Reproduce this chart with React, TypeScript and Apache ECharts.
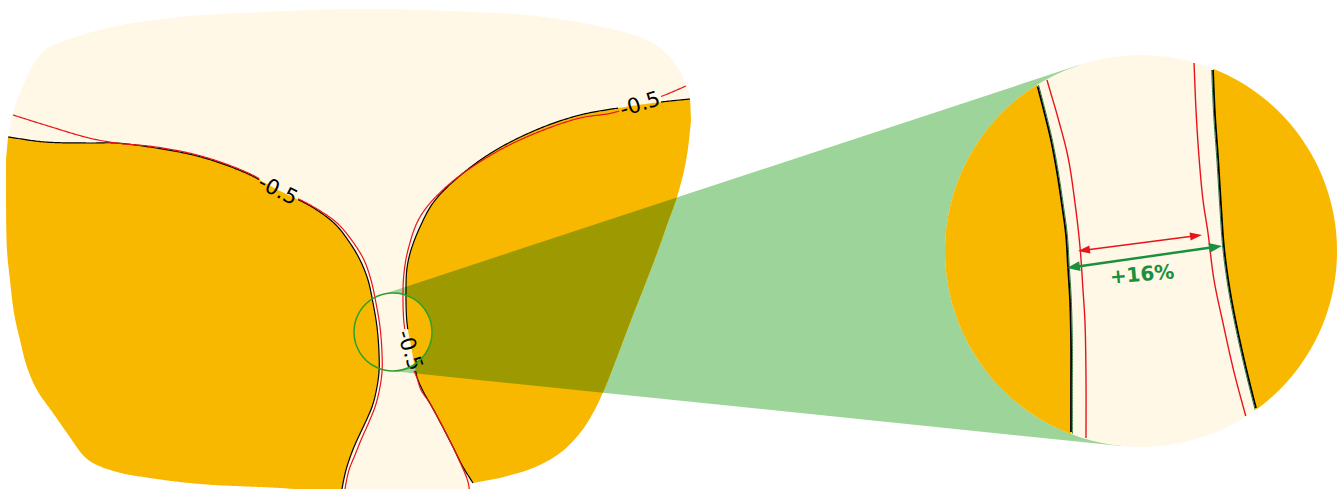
import React, { useEffect, useRef } from "react";
import * as echarts from "echarts";

type P = [number, number];

const W = 1339;
const H = 489;

// ---- main field (pixel-space data coordinates) ----
const blobOutline: P[] = [
  [9, 137], [13, 113], [20, 93], [27, 77], [35, 62], [45, 50], [67, 40], [112, 27], [179, 17],
  [268, 12], [357, 9], [446, 11], [536, 16], [603, 27], [647, 40], [670, 57], [683, 77],
  [690, 97], [691, 120], [689, 140], [687, 155], [683, 175], [676, 200], [668, 222], [657, 253],
  [644, 287], [631, 320], [617, 357], [604, 390], [593, 413], [580, 433], [560, 453], [533, 468],
  [500, 478], [473, 483], [466, 497], [340, 497], [320, 491], [280, 488], [200, 484], [150, 478],
  [117, 472], [93, 463], [83, 455], [67, 433], [53, 413], [37, 390], [27, 367], [20, 340],
  [14, 313], [10, 280], [7, 250], [6, 200], [6, 160],
];

const leftContour: P[] = [
  [8, 137], [45, 142], [89, 143], [116, 143], [156, 148], [201, 157], [246, 173], [278, 190],
  [312, 207], [335, 224], [350, 243], [360, 260], [368, 280], [373, 303], [377, 327], [379, 353],
  [379, 372], [376, 392], [372, 407], [366, 421], [358, 438], [352, 452], [346, 470], [342, 489],
  [341, 497],
];
const leftOuterEdge: P[] = [
  [320, 491], [280, 488], [200, 484], [150, 478], [117, 472], [93, 463], [83, 455], [67, 433],
  [53, 413], [37, 390], [27, 367], [20, 340], [14, 313], [10, 280], [7, 250], [6, 200], [6, 160],
];
const rightContour: P[] = [
  [690, 99], [661, 102], [625, 107], [580, 115], [536, 130], [491, 153], [455, 180], [433, 203],
  [420, 227], [411, 250], [407, 268], [406, 290], [407, 323], [411, 346], [415, 368], [418, 380],
  [424, 393], [431, 405], [438, 418], [453, 447], [463, 467], [473, 483],
];
const rightOuterEdge: P[] = [
  [500, 478], [533, 468], [560, 453], [580, 433], [593, 413], [604, 390], [617, 357], [631, 320],
  [644, 287], [657, 253], [668, 222], [676, 200], [683, 175], [687, 155], [689, 140], [691, 120],
];
const leftRedLine: P[] = [
  [13, 115], [45, 125], [89, 138], [116, 143], [156, 147], [201, 156], [246, 172], [278, 189],
  [312, 206], [337, 223], [353, 242], [364, 260], [371, 280], [376, 303], [380, 327], [382, 353],
  [382, 372], [379, 392], [375, 407], [369, 422], [361, 440], [355, 455], [349, 470], [345, 489],
  [344, 497],
];
const rightRedLine: P[] = [
  [686, 86], [665, 95], [640, 104], [612, 113], [580, 118], [536, 133], [491, 155], [446, 187],
  [420, 217], [408, 250], [404, 273], [403, 293], [404, 323], [408, 346], [413, 368], [417, 378],
  [421, 390], [429, 402], [446, 433], [459, 460], [468, 482], [470, 497],
];

const labelTexts = ["-0.5", "-0.5", "-0.5"];
const labelCenters: P[] = [[278, 190], [640, 104], [410, 350]];
const labelAngles = [27, -17, 72]; // degrees, clockwise

// ---- lenses ----
const smallLensCenter: P = [393, 332];
const smallLensRadius = 39;
const bigLensCenter: P = [1141, 251];
const bigLensRadius = 196;

// ---- magnified view ----
const zoomLeftBlack: P[] = [
  [1033, 70], [1038, 88], [1045, 115], [1051, 140], [1057, 172], [1062, 205], [1066, 235],
  [1068, 267], [1070, 300], [1071, 340], [1071, 390], [1071, 432], [1071, 455],
];
const zoomRightBlack: P[] = [
  [1212, 45], [1213, 70], [1215, 115], [1218, 157], [1221, 205], [1224, 247], [1229, 285],
  [1236, 323], [1246, 368], [1256, 408], [1262, 430],
];
const zoomLeftRed: P[] = [
  [1043, 65], [1047, 80], [1058, 118], [1068, 157], [1075, 203], [1080, 247], [1083, 290],
  [1085, 323], [1086, 380], [1086, 438], [1086, 455],
];
const zoomRightRed: P[] = [
  [1193, 45], [1194, 63], [1196, 110], [1199, 157], [1203, 200], [1208, 233], [1214, 280],
  [1223, 323], [1234, 372], [1246, 417], [1250, 432],
];
const redArrow: P[] = [[1078, 251], [1202, 235]];
const greenArrow: P[] = [[1067, 268], [1222, 246]];
const zoomLabel = "+16%";
const zoomLabelAt: P = [1142, 274];
const zoomLabelAngle = -5;

// ---- colours ----
const CREAM = "#FFF8E6";
const ORANGE = "#F9B800";
const LIGHT_GREEN = "#9DD49A";
const OLIVE = "#9C9A00";
const RED = "#E8141C";
const LENS_GREEN = "#2CA02C";
const ARROW_GREEN = "#1A8F3E";
const EDGE_GREEN = "#1E6E32";

// ---------- geometry helpers ----------
// centripetal Catmull-Rom curve through the read points (drawing only)
function densify(pts: P[], closed = false, step = 1.5): P[] {
  const n = pts.length;
  const out: P[] = [];
  const get = (i: number): P => {
    if (closed) return pts[((i % n) + n) % n];
    if (i < 0) return [2 * pts[0][0] - pts[1][0], 2 * pts[0][1] - pts[1][1]];
    if (i > n - 1) return [2 * pts[n - 1][0] - pts[n - 2][0], 2 * pts[n - 1][1] - pts[n - 2][1]];
    return pts[i];
  };
  const segs = closed ? n : n - 1;
  const dt = (a: P, b: P) => Math.max(1e-4, Math.sqrt(Math.hypot(b[0] - a[0], b[1] - a[1])));
  for (let i = 0; i < segs; i++) {
    const p0 = get(i - 1), p1 = get(i), p2 = get(i + 1), p3 = get(i + 2);
    const t0 = 0, t1 = t0 + dt(p0, p1), t2 = t1 + dt(p1, p2), t3 = t2 + dt(p2, p3);
    const len = Math.hypot(p2[0] - p1[0], p2[1] - p1[1]);
    const k = Math.max(1, Math.ceil(len / step));
    const lerp = (a: P, b: P, ta: number, tb: number, t: number): P => {
      const u = (t - ta) / (tb - ta);
      return [a[0] + (b[0] - a[0]) * u, a[1] + (b[1] - a[1]) * u];
    };
    for (let j = 0; j < k; j++) {
      const t = t1 + ((t2 - t1) * j) / k;
      const A1 = lerp(p0, p1, t0, t1, t);
      const A2 = lerp(p1, p2, t1, t2, t);
      const A3 = lerp(p2, p3, t2, t3, t);
      const B1 = lerp(A1, A2, t0, t2, t);
      const B2 = lerp(A2, A3, t1, t3, t);
      out.push(lerp(B1, B2, t1, t2, t));
    }
  }
  if (!closed) out.push(pts[n - 1]);
  return out;
}

function circlePoly(c: P, r: number, n = 120): P[] {
  const out: P[] = [];
  for (let i = 0; i < n; i++) {
    const a = (i / n) * Math.PI * 2;
    out.push([c[0] + r * Math.cos(a), c[1] + r * Math.sin(a)]);
  }
  return out;
}

function clipPoly(subject: P[], clip: P[]): P[] {
  let area = 0;
  for (let i = 0; i < clip.length; i++) {
    const a = clip[i], b = clip[(i + 1) % clip.length];
    area += a[0] * b[1] - b[0] * a[1];
  }
  const s = Math.sign(area);
  let output = subject;
  for (let i = 0; i < clip.length; i++) {
    const a = clip[i], b = clip[(i + 1) % clip.length];
    const side = (p: P) => s * ((b[0] - a[0]) * (p[1] - a[1]) - (b[1] - a[1]) * (p[0] - a[0]));
    const input = output;
    output = [];
    if (!input.length) break;
    for (let j = 0; j < input.length; j++) {
      const cur = input[j], prev = input[(j + input.length - 1) % input.length];
      const sc = side(cur), sp = side(prev);
      const inter = (): P => {
        const t = sp / (sp - sc);
        return [prev[0] + (cur[0] - prev[0]) * t, prev[1] + (cur[1] - prev[1]) * t];
      };
      if (sc >= 0) {
        if (sp < 0) output.push(inter());
        output.push(cur);
      } else if (sp >= 0) output.push(inter());
    }
  }
  return output;
}

function splitBy(line: P[], keep: (p: P) => boolean): P[][] {
  const parts: P[][] = [];
  let cur: P[] = [];
  for (const p of line) {
    if (keep(p)) cur.push(p);
    else {
      if (cur.length > 1) parts.push(cur);
      cur = [];
    }
  }
  if (cur.length > 1) parts.push(cur);
  return parts;
}

function outerTangents(c1: P, r1: number, c2: P, r2: number): [P, P][] {
  const dx = c2[0] - c1[0], dy = c2[1] - c1[1];
  const D = Math.hypot(dx, dy);
  const ux = dx / D, uy = dy / D, px = -uy, py = ux;
  const k = (r1 - r2) / D, h = Math.sqrt(1 - k * k);
  return [1, -1].map((s) => {
    const nx = k * ux + s * h * px, ny = k * uy + s * h * py;
    return [
      [c1[0] + r1 * nx, c1[1] + r1 * ny],
      [c2[0] + r2 * nx, c2[1] + r2 * ny],
    ] as [P, P];
  });
}

function shift(line: P[], dx: number): P[] {
  return line.map((p) => [p[0] + dx, p[1]] as P);
}

function arrowParts(a: P, b: P, headLen: number, halfW: number) {
  const dx = b[0] - a[0], dy = b[1] - a[1];
  const L = Math.hypot(dx, dy);
  const ux = dx / L, uy = dy / L, px = -uy, py = ux;
  const head = (tip: P, dir: number): P[] => {
    const bx = tip[0] - dir * ux * headLen, by = tip[1] - dir * uy * headLen;
    return [tip, [bx + px * halfW, by + py * halfW], [bx - px * halfW, by - py * halfW]];
  };
  const shaft: P[] = [
    [a[0] + ux * (headLen - 2), a[1] + uy * (headLen - 2)],
    [b[0] - ux * (headLen - 2), b[1] - uy * (headLen - 2)],
  ];
  return { shaft, heads: [head(a, -1), head(b, 1)] };
}

export default function App() {
  const ref = useRef<HTMLDivElement>(null);

  useEffect(() => {
    if (!ref.current) return;
    const chart = echarts.init(ref.current, undefined, { renderer: "svg" });

    const blob = densify(blobOutline, true);
    const leftOrange = densify(leftContour).concat(densify(leftOuterEdge));
    const rightOrange = densify(rightContour).concat(densify(rightOuterEdge));
    const tangents = outerTangents(smallLensCenter, smallLensRadius, bigLensCenter, bigLensRadius);
    const cone: P[] = [tangents[0][0], tangents[0][1], tangents[1][1], tangents[1][0]];
    const olive = clipPoly(rightOrange, cone);
    const smallDisk = circlePoly(smallLensCenter, smallLensRadius);
    const leftInSmall = clipPoly(leftOrange, smallDisk);
    const rightInSmall = clipPoly(rightOrange, smallDisk);

    const gapR = 21;
    const notUnderLabel = (p: P) =>
      labelCenters.every((c) => Math.hypot(p[0] - c[0], p[1] - c[1]) >= gapR);
    const blackLines = [
      ...splitBy(densify(leftContour), notUnderLabel),
      ...splitBy(densify(rightContour), notUnderLabel),
    ];
    const redLines = [
      ...splitBy(densify(leftRedLine), notUnderLabel),
      ...splitBy(densify(rightRedLine), notUnderLabel),
    ];

    const bigDisk = circlePoly(bigLensCenter, bigLensRadius, 180);
    const zl = densify(zoomLeftBlack);
    const zr = densify(zoomRightBlack);
    const zLeftOrange = clipPoly(zl.concat([[880, 470], [880, 30]] as P[]), bigDisk);
    const zRightOrange = clipPoly(zr.concat([[1400, 470], [1400, 30]] as P[]), bigDisk);
    const inBig = (p: P) =>
      Math.hypot(p[0] - bigLensCenter[0], p[1] - bigLensCenter[1]) <= bigLensRadius - 0.5;
    const zBlack = [...splitBy(zl, inBig), ...splitBy(zr, inBig)];
    const zGreenEdge = [...splitBy(shift(zl, 1.3), inBig), ...splitBy(shift(zr, -1.3), inBig)];
    const zRed = [...splitBy(densify(zoomLeftRed), inBig), ...splitBy(densify(zoomRightRed), inBig)];
    const ra = arrowParts(redArrow[0], redArrow[1], 12, 4);
    const ga = arrowParts(greenArrow[0], greenArrow[1], 13, 5);

    const option: any = {
      animation: false,
      grid: { left: 0, right: 0, top: 0, bottom: 0 },
      xAxis: { type: "value", min: 0, max: W, show: false },
      yAxis: { type: "value", min: 0, max: H, inverse: true, show: false },
      series: [
        {
          type: "custom",
          coordinateSystem: "cartesian2d",
          clip: false,
          silent: true,
          data: [[0, 0]],
          renderItem: (_params: any, api: any) => {
            const c = (p: P) => api.coord(p);
            const scale = api.size([1, 0])[0];
            const poly = (pts: P[], fill: string) => ({
              type: "polygon",
              shape: { points: pts.map(c) },
              style: { fill },
            });
            const line = (pts: P[], stroke: string, w: number) => ({
              type: "polyline",
              shape: { points: pts.map(c) },
              style: { stroke, lineWidth: w, fill: "none", lineJoin: "round", lineCap: "butt" },
            });
            const circ = (ctr: P, r: number, style: any) => {
              const q = c(ctr);
              return { type: "circle", shape: { cx: q[0], cy: q[1], r: r * scale }, style };
            };
            const text = (t: string, at: P, angleDeg: number, style: any) => {
              const q = c(at);
              return {
                type: "text",
                x: q[0],
                y: q[1],
                rotation: (-angleDeg * Math.PI) / 180,
                style: { text: t, align: "center", verticalAlign: "middle", ...style },
              };
            };

            const children: any[] = [];
            children.push(poly(blob, CREAM));
            children.push(poly(cone, LIGHT_GREEN));
            children.push(poly(leftOrange, ORANGE));
            children.push(poly(rightOrange, ORANGE));
            if (olive.length > 2) children.push(poly(olive, OLIVE));
            children.push(poly(smallDisk, CREAM));
            if (leftInSmall.length > 2) children.push(poly(leftInSmall, ORANGE));
            if (rightInSmall.length > 2) children.push(poly(rightInSmall, ORANGE));
            blackLines.forEach((l) => children.push(line(l, "#000000", 1.2)));
            redLines.forEach((l) => children.push(line(l, RED, 1.2)));
            labelTexts.forEach((t, i) =>
              children.push(
                text(t, labelCenters[i], labelAngles[i], {
                  fill: "#000000",
                  fontSize: 21,
                  fontFamily: "DejaVu Sans",
                })
              )
            );
            children.push(circ(smallLensCenter, smallLensRadius, { fill: "none", stroke: LENS_GREEN, lineWidth: 1.5 }));

            children.push(circ(bigLensCenter, bigLensRadius, { fill: CREAM }));
            if (zLeftOrange.length > 2) children.push(poly(zLeftOrange, ORANGE));
            if (zRightOrange.length > 2) children.push(poly(zRightOrange, ORANGE));
            zBlack.forEach((l) => children.push(line(l, "#000000", 1.8)));
            zGreenEdge.forEach((l) => children.push(line(l, EDGE_GREEN, 1)));
            zRed.forEach((l) => children.push(line(l, RED, 1.4)));
            children.push(line(ra.shaft, RED, 1.6));
            ra.heads.forEach((h) => children.push(poly(h, RED)));
            children.push(line(ga.shaft, ARROW_GREEN, 2.4));
            ga.heads.forEach((h) => children.push(poly(h, ARROW_GREEN)));
            children.push(
              text(zoomLabel, zoomLabelAt, zoomLabelAngle, {
                fill: ARROW_GREEN,
                fontSize: 20,
                fontWeight: "bold",
                fontFamily: "DejaVu Sans",
              })
            );
            return { type: "group", children };
          },
        },
      ],
    };
    chart.setOption(option);
    return () => chart.dispose();
  }, []);

  return (
    <div
      ref={ref}
      style={{ position: "fixed", left: 0, top: 0, width: W, height: H, background: "#ffffff" }}
    />
  );
}
